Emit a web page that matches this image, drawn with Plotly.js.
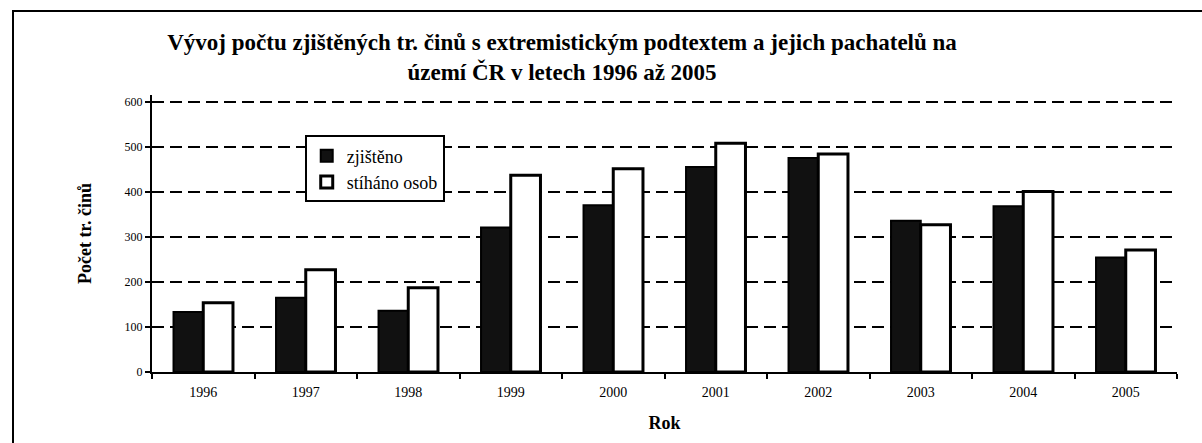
<!DOCTYPE html>
<html>
<head>
<meta charset="utf-8">
<script src="https://cdn.plot.ly/plotly-3.0.1.min.js"></script>
<style>
html,body{margin:0;padding:0;background:#fff;}
#frame{position:absolute;left:12px;top:10px;width:1200px;height:440px;border-top:2px solid #000;border-left:2px solid #000;}
#chart{position:absolute;left:0;top:0;width:1202px;height:443px;}
</style>
</head>
<body>
<div id="frame"></div>
<div id="chart"></div>
<script>
const years = ["1996","1997","1998","1999","2000","2001","2002","2003","2004","2005"];
const zjisteno = [133, 165, 136, 321, 370, 455, 475, 336, 368, 254];
const stihano = [154, 227, 187, 437, 451, 508, 484, 327, 401, 271];
const yTicks = [0, 100, 200, 300, 400, 500, 600];

const serif = "Liberation Serif, Times New Roman, serif";

const traces = [
  {type:"bar", name:"zjištěno", x:years, y:zjisteno,
   marker:{color:"#111111", line:{color:"#000", width:2}}},
  {type:"bar", name:"stíháno osob", x:years, y:stihano,
   marker:{color:"#ffffff", line:{color:"#000", width:3}}}
];

const layout = {
  width:1202, height:443,
  margin:{l:152, r:25, t:95, b:71},
  paper_bgcolor:"rgba(0,0,0,0)", plot_bgcolor:"rgba(0,0,0,0)",
  font:{family:serif, color:"#000"},
  title:{text:"Vývoj počtu zjištěných tr. činů s extremistickým podtextem a jejich pachatelů na<br>území ČR v letech 1996 až 2005",
         x:0.4676, xanchor:"center", xref:"container", y:0.888, yref:"container", yanchor:"middle",
         font:{family:serif, size:23, color:"#000", weight:"bold"}},
  barmode:"group", bargap:0.42, bargroupgap:0,
  showlegend:true,
  legend:{x:0.149, xanchor:"left", y:0.854, yanchor:"top", bgcolor:"#fff",
          bordercolor:"#000", borderwidth:2, font:{family:serif, size:18, color:"#000"},
          traceorder:"normal", itemwidth:30, tracegroupgap:0},
  xaxis:{type:"category", tickson:"boundaries", ticks:"outside", ticklen:5, tickwidth:2,
         tickcolor:"#000", showline:true, linecolor:"#000", linewidth:2, showgrid:false,
         ticklabelstandoff:6,
         tickfont:{family:serif, size:14, color:"#000"},
         title:{text:"Rok", font:{family:serif, size:18, color:"#000", weight:"bold"}, standoff:18}},
  yaxis:{range:[0,615], tickvals:yTicks, ticktext:yTicks.map(String), ticks:"outside", ticklen:5,
         tickwidth:2, tickcolor:"#000", showline:true, linecolor:"#000", linewidth:2,
         showgrid:true, gridcolor:"#000", gridwidth:2, griddash:"12px,6px", zeroline:false,
         tickfont:{family:serif, size:12, color:"#000"},
         title:{text:"Počet tr. činů", font:{family:serif, size:18, color:"#000", weight:"bold"}, standoff:28}}
};

Plotly.newPlot("chart", traces, layout, {displayModeBar:false, staticPlot:true});
</script>
</body>
</html>
